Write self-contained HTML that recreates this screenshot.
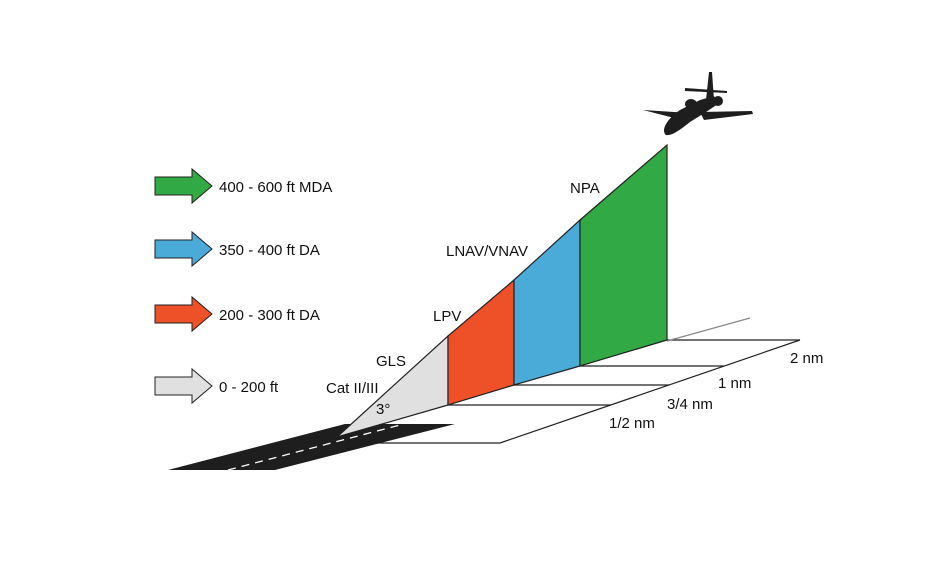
<!DOCTYPE html>
<html><head><meta charset="utf-8"><style>
html,body{margin:0;padding:0;background:#fff;}
svg{display:block}
text{font-family:"Liberation Sans",sans-serif;font-size:15px;fill:#111;}
</style></head><body>
<svg width="943" height="571" viewBox="0 0 943 571" xmlns="http://www.w3.org/2000/svg">
<!-- legend arrows -->
<g stroke="#222" stroke-width="1">
<path d="M155,177 H192 V169 L212,186 L192,203 V195 H155 Z" fill="#31a944"/>
<path d="M155,240 H192 V232 L212,249 L192,266 V258 H155 Z" fill="#4aabd8"/>
<path d="M155,305 H192 V297 L212,314 L192,331 V323 H155 Z" fill="#ee5027"/>
<path d="M155,377 H192 V369 L212,386 L192,403 V395 H155 Z" fill="#e0e0e0"/>
</g>
<text x="219" y="192">400 - 600 ft MDA</text>
<text x="219" y="255">350 - 400 ft DA</text>
<text x="219" y="320">200 - 300 ft DA</text>
<text x="219" y="392">0 - 200 ft</text>
<!-- runway -->
<path d="M168,470 L275,470 L455,424 L345,424 Z" fill="#1e1e1e"/>
<line x1="228" y1="470" x2="400" y2="425" stroke="#fff" stroke-width="1.3" stroke-dasharray="8,6"/>
<!-- ground planes -->
<g stroke="#222" stroke-width="1.2" fill="none">
<line x1="667" y1="340" x2="800" y2="340"/>
<line x1="580" y1="366" x2="724" y2="366"/>
<line x1="514" y1="385" x2="669" y2="385"/>
<line x1="448" y1="405" x2="611" y2="405"/>
<line x1="370" y1="443" x2="500" y2="443"/>
<line x1="800" y1="340" x2="500" y2="443"/>
</g>
<line x1="667" y1="341" x2="750" y2="318" stroke="#888" stroke-width="1.2"/>
<!-- slope sections -->
<g stroke="#222" stroke-width="1.2">
<path d="M337,437 L448,336 L448,405 Z" fill="#e0e0e0"/>
<path d="M448,336 L514,280 L514,385 L448,405 Z" fill="#ee5027"/>
<path d="M514,280 L580,220 L580,366 L514,385 Z" fill="#4aabd8"/>
<path d="M580,220 L667,145 L667,340 L580,366 Z" fill="#31a944"/>
</g>
<!-- airplane -->
<g fill="#1e1e1e">
<path d="M666,135 C660,130 668,118 680,110 L700,100 L714,96 L718,104 L706,112 L690,122 C680,130 672,136 666,135 Z"/>
<path d="M643,110 L690,113 L690,118 L682,120 Z"/>
<path d="M700,112 L752,111 L753,114 L704,120 Z"/>
<path d="M706,100 L709,72 L712,72 L714,100 Z"/>
<path d="M685,88 L727,91 L727,93 L685,91 Z"/>
<ellipse cx="691" cy="104" rx="6" ry="5"/>
<ellipse cx="718" cy="101" rx="5" ry="5"/>
</g>
<!-- labels -->
<text x="570" y="193">NPA</text>
<text x="446" y="256">LNAV/VNAV</text>
<text x="433" y="321">LPV</text>
<text x="376" y="366">GLS</text>
<text x="326" y="393">Cat II/III</text>
<text x="376" y="414">3°</text>
<text x="790" y="363">2 nm</text>
<text x="718" y="388">1 nm</text>
<text x="667" y="409">3/4 nm</text>
<text x="609" y="428">1/2 nm</text>
</svg>
</body></html>
